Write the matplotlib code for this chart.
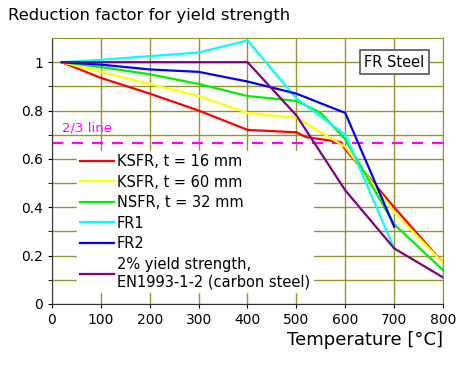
import matplotlib
matplotlib.use('Agg')
import matplotlib.pyplot as plt
import numpy as np

# data
temp_ksfr16 = [20, 100, 200, 300, 400, 450, 500, 520, 590, 600, 700, 800]
ksfr16 = [1.0, 0.935, 0.87, 0.80, 0.72, 0.715, 0.71, 0.69, 0.67, 0.64, 0.40, 0.17]
temp_ksfr60 = [20, 100, 200, 300, 400, 500, 600, 700, 800]
ksfr60 = [1.0, 0.96, 0.91, 0.86, 0.79, 0.77, 0.65, 0.38, 0.17]
temp_nsfr32 = [20, 100, 200, 300, 400, 500, 550, 600, 700, 800]
nsfr32 = [1.0, 0.98, 0.95, 0.91, 0.86, 0.84, 0.79, 0.68, 0.33, 0.14]
temp_fr1 = [20, 100, 200, 300, 400, 500, 600, 700]
fr1 = [1.0, 1.01, 1.025, 1.04, 1.09, 0.85, 0.70, 0.23]
temp_fr2 = [20, 100, 200, 300, 400, 500, 600, 700]
fr2 = [1.0, 0.99, 0.97, 0.96, 0.92, 0.87, 0.79, 0.32]
temp_en = [20, 400, 500, 600, 700, 800]
en1993 = [1.0, 1.0, 0.78, 0.47, 0.23, 0.11]

series = [
    (temp_ksfr16, ksfr16, '#ff0000', 'KSFR, t = 16 mm'),
    (temp_ksfr60, ksfr60, '#ffff00', 'KSFR, t = 60 mm'),
    (temp_nsfr32, nsfr32, '#00f000', 'NSFR, t = 32 mm'),
    (temp_fr1, fr1, '#00ffff', 'FR1'),
    (temp_fr2, fr2, '#0000ff', 'FR2'),
    (temp_en, en1993, '#800080', '2% yield strength,\nEN1993-1-2 (carbon steel)'),
]

GRID = '#94942a'

fig = plt.figure(figsize=(4.65, 3.69), dpi=100)
ax = fig.add_axes([0.1118, 0.1762, 0.8409, 0.7208])

for x, y, c, lab in series:
    ax.plot(x, y, color=c, lw=1.6, label=lab, zorder=3)

ax.axhline(2/3, color='#ff00ff', lw=1.6, ls=(0, (5, 4)), zorder=2)
ax.text(20, 0.70, '2/3 line', color='#ff00ff', fontsize=9.5, va='bottom')

ax.set_xlim(0, 800)
ax.set_ylim(0, 1.1)
ax.set_xticks(range(0, 801, 100))
ax.set_yticks([0, 0.2, 0.4, 0.6, 0.8, 1.0])
ax.set_yticks(np.arange(0.1, 1.1, 0.2), minor=True)
ax.set_yticklabels(['0', '0.2', '0.4', '0.6', '0.8', '1'])
ax.tick_params(labelsize=10, length=3, color='black')
ax.tick_params(which='minor', length=3, color='black')
ax.grid(True, which='both', color=GRID, lw=1.0, zorder=0)
ax.set_axisbelow(True)
for s in ['top', 'right']:
    ax.spines[s].set_color(GRID)
for s in ['left', 'bottom']:
    ax.spines[s].set_color('#333333')

ax.set_xlabel('Temperature [°C]', fontsize=13, loc='right', labelpad=3)
fig.text(0.017, 0.957, 'Reduction factor for yield strength', fontsize=11.8,
         va='center')

ax.text(700, 1.0, 'FR Steel', fontsize=10.5, ha='center', va='center',
        bbox=dict(boxstyle='square,pad=0.3', fc='white', ec='#555555', lw=1.2))

leg = ax.legend(loc='upper left', bbox_to_anchor=(0.065, 0.575), fontsize=10.5,
                frameon=True, framealpha=1, edgecolor='white',
                handlelength=2.3, handletextpad=0.2, labelspacing=0.38,
                borderpad=0.2, borderaxespad=0, fancybox=False)

fig.savefig('out.png', dpi=100)
